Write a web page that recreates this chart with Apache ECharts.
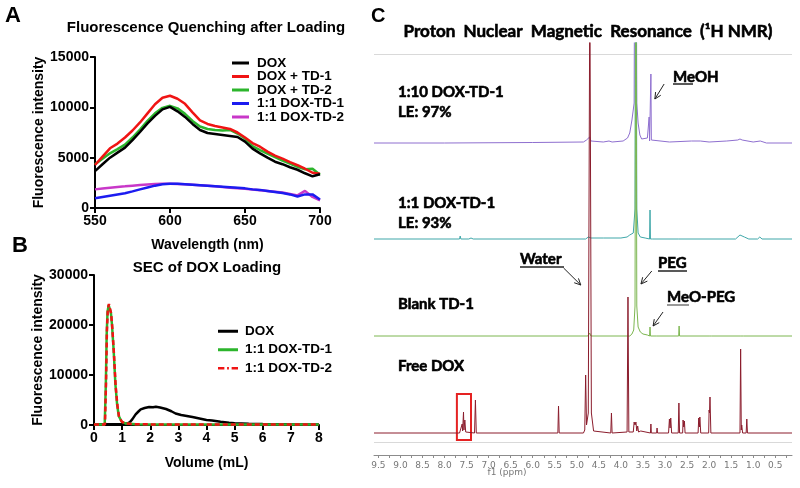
<!DOCTYPE html>
<html><head><meta charset="utf-8">
<script src="https://cdn.jsdelivr.net/npm/echarts@6/dist/echarts.min.js"></script>
<style>html,body{margin:0;padding:0;background:#fff}#c{width:800px;height:488px}</style>
</head><body><div id="c"></div>
<script>
// ---------- Panel A: fluorescence quenching ----------
const wavelengths = [550,555,560,565,570,575,580,585,590,595,600,605,610,615,620,625,630,635,640,645,650,655,660,665,670,675,680,685,690,695,700];
const aDOX   = [3670,4350,5000,5500,6000,6750,7550,8400,9150,9800,10050,9600,9050,8350,7750,7450,7350,7250,7150,7050,6600,5900,5430,5000,4600,4350,4050,3800,3450,3150,3350];
const aTD1   = [4270,5100,5930,6400,7000,7700,8500,9400,10300,10950,11150,10850,10350,9500,8700,8350,8150,8000,7850,7500,7000,6450,6090,5600,5200,4900,4550,4250,3900,3500,3400];
const aTD2   = [4340,4900,5430,5850,6300,7000,7800,8650,9400,9950,10150,9900,9350,8650,8100,7850,7750,7700,7750,7400,6900,6150,5760,5400,5050,4700,4400,4100,3850,3900,3300];
const a11TD1 = [960,1090,1220,1340,1460,1650,1850,2040,2220,2350,2420,2400,2350,2300,2250,2200,2150,2100,2050,2000,1950,1850,1800,1700,1600,1500,1350,1150,1350,1350,850];
const a11TD2 = [1850,1940,2020,2090,2150,2220,2280,2330,2380,2410,2420,2390,2350,2300,2250,2200,2150,2080,2020,1970,1900,1830,1770,1700,1620,1530,1400,1250,1700,1100,750];
const aNames = ['DOX','DOX + TD-1','DOX + TD-2','1:1 DOX-TD-1','1:1 DOX-TD-2'];
const aColors = ['#000000','#f01414','#2cb52c','#1c1cf0','#c837c8'];

// ---------- Panel B: SEC ----------
const bDOX = [[0,100],[0.5,150],[1.0,200],[1.18,300],[1.28,600],[1.36,1130],[1.48,2130],[1.58,2700],[1.66,3130],[1.8,3400],[1.96,3600],[2.1,3550],[2.2,3650],[2.35,3500],[2.56,3200],[2.75,2750],[2.9,2300],[3.1,2000],[3.3,1800],[3.5,1600],[3.75,1300],[4.0,1000],[4.2,900],[4.5,650],[4.8,450],[5.0,350],[5.5,250],[6,200],[7,150],[8,120]];
const bTD1 = [[0,100],[0.38,100],[0.42,8000],[0.45,18000],[0.48,22500],[0.52,24000],[0.56,24300],[0.6,22500],[0.64,20000],[0.7,14800],[0.76,8200],[0.82,4200],[0.88,1800],[0.98,700],[1.12,300],[1.5,150],[2,120],[3,100],[4,100],[5,80],[6,80],[7,80],[8,80]];
const bTD2 = [[0,100],[0.39,100],[0.43,9000],[0.46,19000],[0.49,23000],[0.53,24200],[0.57,24400],[0.61,22300],[0.65,19500],[0.71,14200],[0.77,7800],[0.83,4000],[0.89,1700],[0.99,650],[1.12,300],[1.5,150],[2,120],[3,100],[4,100],[5,80],[6,80],[7,80],[8,80]];
const bNames = ['DOX','1:1 DOX-TD-1','1:1 DOX-TD-2'];
const bColors = ['#000000','#2cb52c','#f01414'];

// ---------- Panel C: 1H NMR spectra [ppm, intensity] ----------
const nmrFreeDOX = [[9.6,0],[7.66,0],[7.62,1],[7.6,9],[7.59,2],[7.57,21],[7.56,3],[7.54,13],[7.52,1],[7.32,0],[7.30,33],[7.28,0],[5.43,0],[5.415,27],[5.40,0],[4.85,0],[4.82,3],[4.80,58],[4.78,8],[4.74,20],[4.705,460],[4.67,20],[4.62,2],[4.23,0],[4.215,20],[4.20,0],[3.86,1],[3.84,136],[3.82,1],[3.72,1],[3.70,11],[3.68,8],[3.66,11],[3.64,2],[3.62,7],[3.60,1],[3.55,2],[3.52,0],[3.33,0],[3.32,9],[3.31,0],[3.19,0],[3.18,5],[3.17,0],[2.92,0],[2.90,14],[2.885,5],[2.87,15],[2.85,0],[2.70,0],[2.685,30],[2.67,0],[2.60,0],[2.59,13],[2.575,6],[2.56,12],[2.545,0],[2.25,0],[2.235,15],[2.22,6],[2.21,16],[2.19,0],[2.01,0],[2.00,23],[1.99,20],[1.98,36],[1.96,0],[1.30,0],[1.285,84],[1.27,3],[1.26,8],[1.24,0],[1.16,0],[1.145,14],[1.13,0],[0.12,0]];
const nmrBlank = [[9.6,0],[4.75,0],[4.71,3],[4.68,0],[3.80,0],[3.75,2],[3.71,6],[3.68,30],[3.66,460],[3.64,30],[3.61,9],[3.56,4],[3.50,2],[3.40,1],[3.35,0],[3.34,9],[3.33,0],[3.2,0],[3.19,1],[3.18,0],[2.69,0],[2.68,10],[2.67,0],[2.0,0],[1.98,1],[1.95,0],[1.28,0],[1.25,2],[1.22,0],[0.12,0]];
const nmr11 = [[9.6,0],[7.66,0],[7.645,3],[7.63,0],[7.45,0],[7.4,1],[7.35,0],[4.80,0],[4.74,2],[4.71,4],[4.68,1],[4.4,1],[4.0,1],[3.86,2],[3.8,4],[3.72,6],[3.68,30],[3.66,460],[3.64,30],[3.61,6],[3.56,2],[3.45,1],[3.35,0],[3.34,29],[3.33,0],[3.28,0],[2.70,0],[2.69,2],[2.68,0],[1.40,0],[1.30,4],[1.26,5],[1.20,2],[1.10,0],[0.90,0],[0.85,2],[0.80,0],[0.12,0]];
const nmr110 = [[9.6,0],[8.0,0],[6.0,0.5],[4.85,1],[4.78,3],[4.74,5],[4.71,6],[4.68,2],[4.40,1],[4.27,2],[4.2,1],[3.95,2],[3.85,5],[3.80,10],[3.78,11],[3.75,23],[3.70,40],[3.67,460],[3.64,40],[3.61,20],[3.57,8],[3.53,4],[3.40,5],[3.37,3],[3.36,26],[3.35,2],[3.33,3],[3.32,69],[3.31,3],[3.28,1],[2.9,1],[2.4,2],[2.2,2],[2.0,1],[1.6,2],[1.35,3],[1.30,4],[1.25,3],[1.0,1],[0.84,2],[0.7,0],[0.12,0]];
const nmrLabels = [9.5,9.0,8.5,8.0,7.5,7.0,6.5,6.0,5.5,5.0,4.5,4.0,3.5,3.0,2.5,2.0,1.5,1.0,0.5];
const nmrMinorTicks = [9.5,9.25,9.0,8.75,8.5,8.25,8.0,7.75,7.5,7.25,7.0,6.75,6.5,6.25,6.0,5.75,5.5,5.25,5.0,4.75,4.5,4.25,4.0,3.75,3.5,3.25,3.0,2.75,2.5,2.25,2.0,1.75,1.5,1.25,1.0,0.75,0.5,0.25];

// layout constants (not data)
const OFFSETS = {dox:22, blank:119, one:216, ten:312};
const GUIDE_TOP = 401, GUIDE_BOTTOM = 13;

const FA = 'Liberation Sans, Arial, sans-serif';
const FC = 'Lato, Open Sans, sans-serif';

const chart = echarts.init(document.getElementById('c'), null, {renderer:'canvas'});

function axisCommon(){
  return {
    axisLine:{show:true,onZero:false,lineStyle:{color:'#000',width:2}},
    axisTick:{show:true,length:5,lineStyle:{color:'#000',width:2}},
    axisLabel:{color:'#000',fontFamily:FA,fontWeight:'bold',fontSize:14,margin:6,formatter:v=>String(v)},
    splitLine:{show:false}
  };
}

const series = [];
const aData = [aDOX,aTD1,aTD2,a11TD1,a11TD2];
aNames.forEach((n,i)=>{
  series.push({name:n,type:'line',xAxisIndex:0,yAxisIndex:0,showSymbol:false,symbol:'none',
    data:wavelengths.map((w,j)=>[w,aData[i][j]]),
    lineStyle:{color:aColors[i],width:2.5},itemStyle:{color:aColors[i]},z:10-i});
});
const bData = [bDOX,bTD1,bTD2];
bNames.forEach((n,i)=>{
  series.push({name:'B:'+n,type:'line',xAxisIndex:1,yAxisIndex:1,showSymbol:false,symbol:'none',
    data:bData[i],
    lineStyle:{color:bColors[i],width:2.5,type:i===2?[5,3]:'solid'},itemStyle:{color:bColors[i]},z:3+i});
});
function shift(arr,off){return arr.map(p=>[p[0],p[1]+off]);}
const nmrSets = [
  {d:nmr110,off:OFFSETS.ten,c:'#8e6fcf'},
  {d:nmr11,off:OFFSETS.one,c:'#3fa7a9'},
  {d:nmrBlank,off:OFFSETS.blank,c:'#7cb650'},
  {d:nmrFreeDOX,off:OFFSETS.dox,c:'#8b1d2d'}
];
nmrSets.forEach((s,i)=>{
  const ser = {type:'line',xAxisIndex:2,yAxisIndex:2,showSymbol:false,symbol:'none',clip:true,
    data:shift(s.d,s.off),lineStyle:{color:s.c,width:1},z:5+i,silent:true};
  if(i===3){
    ser.markLine={silent:true,symbol:'none',label:{show:false},lineStyle:{color:'#d9d9d9',width:1,type:'solid'},
      data:[{yAxis:GUIDE_TOP},{yAxis:GUIDE_BOTTOM}]};
    ser.markArea={silent:true,itemStyle:{color:'rgba(0,0,0,0)',borderColor:'#e52222',borderWidth:2},
      data:[[{xAxis:7.72,yAxis:15},{xAxis:7.40,yAxis:61}]]};
  }
  series.push(ser);
});

const dashIcon = 'path://M0,0H7V3H0Z M10,0H12V3H10Z M15,0H22V3H15Z';
const option = {
  animation:false,
  backgroundColor:'#fff',
  grid:[
    {left:95,top:57,width:225,height:151},
    {left:94,top:275,width:225,height:150},
    {left:374,top:43,width:418,height:412}
  ],
  xAxis:[
    Object.assign(axisCommon(),{type:'value',gridIndex:0,min:550,max:700,interval:50,
      name:'Wavelength (nm)',nameLocation:'middle',nameGap:30,
      nameTextStyle:{fontFamily:FA,fontWeight:'bold',fontSize:14,color:'#000'}}),
    Object.assign(axisCommon(),{type:'value',gridIndex:1,min:0,max:8,interval:1,
      name:'Volume (mL)',nameLocation:'middle',nameGap:31,
      nameTextStyle:{fontFamily:FA,fontWeight:'bold',fontSize:14,color:'#000'}}),
    {type:'value',gridIndex:2,min:0.12,max:9.6,inverse:true,
      axisLine:{show:true,onZero:false,lineStyle:{color:'#8c8c8c',width:1}},
      axisTick:{show:true,length:3,customValues:nmrMinorTicks,lineStyle:{color:'#8c8c8c'}},
      axisLabel:{show:true,customValues:nmrLabels,color:'#777',fontFamily:'DejaVu Sans',fontSize:9,margin:6,
        formatter:v=>v.toFixed(1)},
      splitLine:{show:false}}
  ],
  yAxis:[
    Object.assign(axisCommon(),{type:'value',gridIndex:0,min:0,max:15000,interval:5000,
      name:'Fluorescence intensity',nameLocation:'middle',nameGap:48,
      nameTextStyle:{fontFamily:FA,fontWeight:'bold',fontSize:14,color:'#000'}}),
    Object.assign(axisCommon(),{type:'value',gridIndex:1,min:0,max:30000,interval:10000,
      name:'Fluorescence intensity',nameLocation:'middle',nameGap:48,
      nameTextStyle:{fontFamily:FA,fontWeight:'bold',fontSize:14,color:'#000'}}),
    {type:'value',gridIndex:2,min:0,max:412,show:false}
  ],
  legend:[
    {data:aNames,orient:'vertical',left:227,top:51,icon:'rect',itemWidth:17,itemHeight:3,itemGap:-0.5,
      selectedMode:false,
      textStyle:{fontFamily:FA,fontWeight:'bold',fontSize:13.5,color:'#000',padding:[0,0,0,3],lineHeight:13,height:13}},
    {data:[{name:'B:DOX',icon:'rect'},{name:'B:1:1 DOX-TD-1',icon:'rect'},{name:'B:1:1 DOX-TD-2',icon:dashIcon}],
      orient:'vertical',left:213,top:318,itemWidth:20,itemHeight:3,itemGap:2,
      selectedMode:false,formatter:n=>n.replace(/^B:/,''),
      textStyle:{fontFamily:FA,fontWeight:'bold',fontSize:13.5,color:'#000',padding:[0,0,0,2],lineHeight:16.5,height:16.5}}
  ],
  series:series
};
chart.setOption(option);

function T(text,x,y,font,align,fill,bolden){
  const st = {text:text,x:x,y:y,font:font,fill:fill||'#000',align:align||'left',verticalAlign:'middle'};
  if(bolden){st.stroke=fill||'#000';st.lineWidth=0.6;}
  return {type:'text',silent:true,style:st};
}
const g = [];
g.push(T('A',5,16,'bold 22px '+FA));
g.push(T('B',12,246,'bold 22px '+FA));
g.push(T('C',371,16,'bold 20px '+FA));
g.push(T('Fluorescence Quenching after Loading',206,28,'bold 15px '+FA,'center'));
g.push(T('SEC of DOX Loading',207,268,'bold 15px '+FA,'center'));
g.push(T('Proton  Nuclear  Magnetic  Resonance  (\u00B9H NMR)',588,32,'bold 17px '+FC,'center',null,true));
g.push(T('1:10 DOX-TD-1',398,92,'bold 15px '+FC,'left',null,true));
g.push(T('LE: 97%',398,112,'bold 15px '+FC,'left',null,true));
g.push(T('1:1 DOX-TD-1',398,203,'bold 15px '+FC,'left',null,true));
g.push(T('LE: 93%',398,223,'bold 15px '+FC,'left',null,true));
g.push(T('Blank TD-1',398,304,'bold 15px '+FC,'left',null,true));
g.push(T('Free DOX',398,366,'bold 15px '+FC,'left',null,true));
g.push(T('MeOH',673,77,'bold 15px '+FC,'left',null,true));
g.push(T('Water',520,259,'bold 15px '+FC,'left',null,true));
g.push(T('PEG',658,263,'bold 15px '+FC,'left',null,true));
g.push(T('MeO-PEG',667,297,'bold 15px '+FC,'left',null,true));
g.push(T('f1 (ppm)',507,473,'9px DejaVu Sans','center','#777'));
function L(x1,y1,x2,y2,c,w){return {type:'line',silent:true,shape:{x1,y1,x2,y2},style:{stroke:c||'#000',lineWidth:w||1.2}};}
g.push(L(673,84,693,84,'#222',1.5));
g.push(L(520,267,564,267,'#222',1.5));
g.push(L(658,271,687,271,'#222',1.5));
g.push(L(667,305,689,305,'#777',1.5));
// arrows defined in data coordinates of the NMR grid [ppm, value]
const arrows = [
  [[3.02,371],[3.23,356]],
  [[5.30,187],[4.91,170]],
  [[3.30,184],[3.545,171]],
  [[3.045,143],[3.27,129]]
];
arrows.forEach(a=>{
  const p1 = chart.convertToPixel({xAxisIndex:2,yAxisIndex:2},a[0]);
  const p2 = chart.convertToPixel({xAxisIndex:2,yAxisIndex:2},a[1]);
  g.push(L(p1[0],p1[1],p2[0],p2[1],'#222',1));
  const ang = Math.atan2(p2[1]-p1[1],p2[0]-p1[0]);
  const hl = 7, spread = 0.45;
  [ang+Math.PI-spread, ang+Math.PI+spread].forEach(t=>{
    g.push(L(p2[0],p2[1],p2[0]+hl*Math.cos(t),p2[1]+hl*Math.sin(t),'#222',1));
  });
});
chart.setOption({graphic:g});
</script></body></html>
